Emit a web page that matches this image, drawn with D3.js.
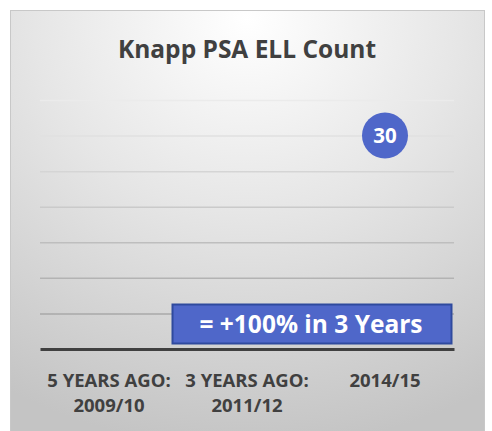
<!DOCTYPE html>
<html>
<head>
<meta charset="utf-8">
<script src="https://cdn.jsdelivr.net/npm/d3@7"></script>
<style>
  body { margin: 0; background: #fff; }
  svg { display: block; }
</style>
</head>
<body>
<div id="chart"></div>
<script>
var categories = [["5 YEARS AGO:", "2009/10"], ["3 YEARS AGO:", "2011/12"], ["2014/15"]];
var counts = [null, null, 30];
var yTicks = [0, 5, 10, 15, 20, 25, 30, 35];
var title = "Knapp PSA ELL Count";
var callout = "= +100% in 3 Years";

var width = 492, height = 431;
var margin = {top: 100, right: 38, bottom: 82, left: 40};
var font = '"Open Sans", Lato, sans-serif';

var svg = d3.select('#chart').append('svg')
  .attr('width', width)
  .attr('height', height)
  .attr('font-family', font);

var defs = svg.append('defs');
var bg = defs.append('radialGradient')
  .attr('id', 'bg')
  .attr('cx', '0.5').attr('cy', '0.02')
  .attr('r', '1.0');
bg.append('stop').attr('offset', '0').attr('stop-color', '#ffffff');
bg.append('stop').attr('offset', '0.45').attr('stop-color', '#e6e6e6');
bg.append('stop').attr('offset', '1').attr('stop-color', '#c4c4c4');

svg.append('rect')
  .attr('x', 10.5).attr('y', 10.5)
  .attr('width', 474).attr('height', 430)
  .attr('fill', 'url(#bg)')
  .attr('stroke', '#c8c8c8')
  .attr('stroke-width', 1);

var x = d3.scaleBand()
  .domain(d3.range(categories.length))
  .range([margin.left, width - margin.right]);

var y = d3.scaleLinear()
  .domain([0, 35])
  .range([height - margin.bottom, margin.top]);

// gridlines get darker towards the bottom
var gridColor = d3.interpolateRgb('#a8a8a8', '#ebebeb');

svg.append('g')
  .attr('transform', 'translate(' + margin.left + ',0)')
  .call(d3.axisLeft(y).tickValues(yTicks.slice(1))
    .tickSize(-(width - margin.left - margin.right)).tickFormat(''))
  .call(function (g) { g.select('.domain').remove(); })
  .selectAll('.tick line')
    .attr('stroke', function (d) { return gridColor((d - 5) / 30); })
    .attr('stroke-width', 1.5);

// x axis
var xAxis = svg.append('g')
  .attr('transform', 'translate(0,' + y(0) + ')')
  .call(d3.axisBottom(x).tickSize(0).tickFormat(''));
xAxis.attr('font-family', font);
xAxis.select('.domain')
  .attr('stroke', '#404040')
  .attr('stroke-width', 3);

xAxis.selectAll('.tick').each(function (d) {
  var t = d3.select(this).append('text')
    .attr('fill', '#404040')
    .attr('font-size', 18.5)
    .attr('font-weight', 'bold')
    .attr('text-anchor', 'middle');
  categories[d].forEach(function (line, i) {
    t.append('tspan')
      .attr('x', 0)
      .attr('y', 38 + i * 25)
      .text(line);
  });
});

// points
var pts = counts.map(function (v, i) { return {i: i, v: v}; })
  .filter(function (d) { return d.v != null; });

var pg = svg.append('g').selectAll('g')
  .data(pts).enter().append('g')
  .attr('transform', function (d) {
    return 'translate(' + (x(d.i) + x.bandwidth() / 2) + ',' + y(d.v) + ')';
  });
pg.append('circle')
  .attr('r', 23)
  .attr('fill', '#4f67c9');
pg.append('text')
  .attr('text-anchor', 'middle')
  .attr('dy', '0.36em')
  .attr('fill', '#fff')
  .attr('font-size', 20.5)
  .attr('font-weight', 'bold')
  .text(function (d) { return d.v; });

// title
svg.append('text')
  .attr('x', 247).attr('y', 58)
  .attr('text-anchor', 'middle')
  .attr('fill', '#404040')
  .attr('font-size', 24.5)
  .attr('font-weight', 'bold')
  .text(title);

// callout box
svg.append('rect')
  .attr('x', 172.5).attr('y', 304.5)
  .attr('width', 279).attr('height', 39)
  .attr('fill', '#4f67c9')
  .attr('stroke', '#2f4a9e')
  .attr('stroke-width', 2);
svg.append('text')
  .attr('x', 311).attr('y', 333)
  .attr('text-anchor', 'middle')
  .attr('fill', '#fff')
  .attr('font-size', 24.5)
  .attr('font-weight', 'bold')
  .text(callout);
</script>
</body>
</html>
